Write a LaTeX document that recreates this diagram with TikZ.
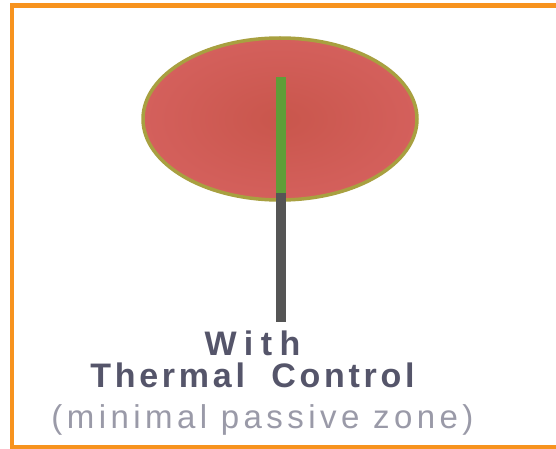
\documentclass[tikz,border=0pt]{standalone}
\usepackage{fontspec}
\setmainfont{Liberation Sans}
\newfontfamily\withfont[LetterSpace=22]{Liberation Sans}
\newfontfamily\titlefont[LetterSpace=11]{Liberation Sans}
\newfontfamily\notefont[LetterSpace=13.5]{Liberation Sans}
\usetikzlibrary{shapes.geometric}
\definecolor{frameorange}{HTML}{F7931E}
\definecolor{zonefill}{HTML}{D4605C}
\definecolor{zonecore}{HTML}{C9564C}
\definecolor{zoneedge}{HTML}{A8A040}
\definecolor{probegreen}{HTML}{5E9E38}
\definecolor{probegray}{HTML}{555555}
\definecolor{textdark}{HTML}{55556A}
\definecolor{textlight}{HTML}{9A9AA8}
\begin{document}
\begin{tikzpicture}[x=1pt,y=-1pt,
  zone/.style={ellipse, draw=zoneedge, line width=3.5pt, inner color=zonecore, outer color=zonefill,
    minimum width=274pt, minimum height=162pt, inner sep=0pt},
  probe/.style={line width=10pt},
  lab/.style={anchor=base, inner sep=0pt}]
\useasboundingbox (0,0) rectangle (556,449);
\fill[white] (0,0) rectangle (556,449);
\draw[frameorange, line width=4.5pt] (570,5.3) -- (12,5.3) -- (12,447.5) -- (570,447.5);
\node[zone] (z) at (280,119) {};
\coordinate (gtop) at (281,77);
\coordinate (gbot) at (281,193);
\coordinate (pend) at (281,322);
\draw[probe, probegreen] (gtop) -- (gbot);
\draw[probe, probegray] (gbot) -- (pend);
\node[lab, text=textdark, font=\withfont\bfseries\fontsize{34}{40}\selectfont] (l1) at (252.5,355) {With};
\node[lab, text=textdark, font=\titlefont\bfseries\fontsize{34}{40}\selectfont] (l2) at (252.5,387) {Thermal\ \ Control};
\node[lab, text=textlight, font=\notefont\fontsize{33}{40}\selectfont] (l3) at (262.5,428) {(minimal passive zone)};
\end{tikzpicture}
\end{document}
